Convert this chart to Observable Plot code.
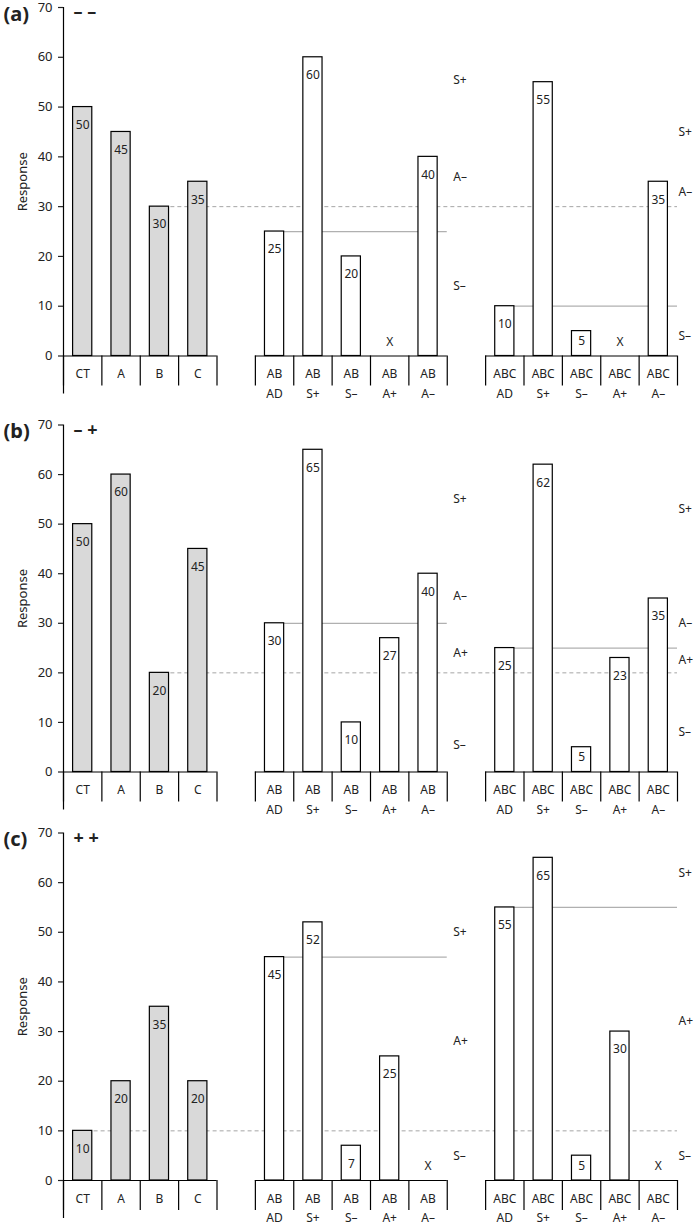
<!DOCTYPE html>
<html><head><meta charset="utf-8">
<script src="https://cdn.jsdelivr.net/npm/d3@7"></script>
<script src="https://cdn.jsdelivr.net/npm/@observablehq/plot@0.6"></script>
<style>body{margin:0;background:#fff;} svg{display:block;}</style>
</head><body><div id="chart"></div>
<script>
const panelLabels = ["(a)", "(b)", "(c)"];
const panelSigns = ["– –", "– +", "+ +"];
const singleCats = ["CT", "A", "B", "C"];
const modelCats = ["AD", "S+", "S–", "A+", "A–"];
const pairName = "AB";
const tripleName = "ABC";
const singleVals = [[50, 45, 30, 35], [50, 60, 20, 45], [10, 20, 35, 20]];
const pairVals = [[25, 60, 20, null, 40], [30, 65, 10, 27, 40], [45, 52, 7, 25, null]];
const tripleVals = [[10, 55, 5, null, 35], [25, 62, 5, 23, 35], [55, 65, 5, 30, null]];
const dashedVals = [30, 20, 10];
const dashedFrom = ["B", "B", "CT"];
const pairZoneLabels = [["S+", "A–", "S–"], ["S+", "A–", "A+", "S–"], ["S+", "A+", "S–"]];
const pairZoneVals = [[55.5, 36, 14], [55, 35.4, 24, 5.5], [50, 28, 5]];
const tripleZoneLabels = [["S+", "A–", "S–"], ["S+", "A–", "A+", "S–"], ["S+", "A+", "S–"]];
const tripleZoneVals = [[45, 33, 4], [53, 30, 22.5, 8], [62, 32, 5]];
const yTicks = [0, 10, 20, 30, 40, 50, 60, 70];
const yMax = 70;
const yTitle = "Response";

const g1 = 0;
const g2 = singleCats.length + 1;
const g3 = g2 + modelCats.length + 1;
const nSlots = g3 + modelCats.length;

function panel(p, height, mt, mb) {
  const ml = 63, mr = 20;
  const pxPerUnit = (height - mt - mb) / yMax;
  const u = px => px / pxPerUnit;
  const bars = [];
  singleCats.forEach((c, k) => bars.push({i: g1 + k, v: singleVals[p][k], g: 1}));
  modelCats.forEach((c, k) => bars.push({i: g2 + k, v: pairVals[p][k], g: 2}));
  modelCats.forEach((c, k) => bars.push({i: g3 + k, v: tripleVals[p][k], g: 3}));
  const present = bars.filter(d => d.v != null);
  const missing = bars.filter(d => d.v == null);
  const groups = [[g1, g1 + singleCats.length], [g2, g2 + modelCats.length], [g3, g3 + modelCats.length]];
  const boundaries = groups.flatMap(([a, b]) => d3.range(a, b + 1));
  const catTop = [
    ...singleCats.map((c, k) => ({i: g1 + k, t: c})),
    ...modelCats.map((c, k) => ({i: g2 + k, t: pairName})),
    ...modelCats.map((c, k) => ({i: g3 + k, t: tripleName}))
  ];
  const catBottom = [
    ...modelCats.map((c, k) => ({i: g2 + k, t: c})),
    ...modelCats.map((c, k) => ({i: g3 + k, t: c}))
  ];
  const dStart = g1 + singleCats.indexOf(dashedFrom[p]);
  const zone2 = pairZoneLabels[p].map((t, k) => ({x: g2 + modelCats.length, y: pairZoneVals[p][k], t}));
  const zone3 = tripleZoneLabels[p].map((t, k) => ({x: g3 + modelCats.length, y: tripleZoneVals[p][k], t}));
  const zero = () => 0;
  return Plot.plot({
    width: 697, height, marginTop: mt, marginBottom: mb, marginLeft: ml, marginRight: mr,
    style: {fontFamily: "'Noto Sans', sans-serif", color: "#222", background: "#fff", overflow: "visible"},
    x: {type: "linear", domain: [0, nSlots], axis: null},
    y: {domain: [0, yMax], axis: null},
    marks: [
      Plot.ruleY([dashedVals[p]], {x1: dStart + 0.25, x2: nSlots, stroke: "#a6a6a6", strokeDasharray: "4,3", strokeWidth: 1}),
      Plot.ruleY([pairVals[p][0]], {x1: g2 + 0.25, x2: g2 + modelCats.length, stroke: "#b0b0b0", strokeWidth: 1.3}),
      Plot.ruleY([tripleVals[p][0]], {x1: g3 + 0.25, x2: g3 + modelCats.length, stroke: "#b0b0b0", strokeWidth: 1.3}),
      Plot.rect(present.filter(d => d.g === 1), {x1: d => d.i + 0.25, x2: d => d.i + 0.75, y1: zero, y2: "v", fill: "#d9d9d9", stroke: "#000", strokeWidth: 1.2}),
      Plot.rect(present.filter(d => d.g !== 1), {x1: d => d.i + 0.25, x2: d => d.i + 0.75, y1: zero, y2: "v", fill: "#fff", stroke: "#000", strokeWidth: 1.2}),
      Plot.text(present.filter(d => d.v >= 6), {x: d => d.i + 0.5, y: "v", text: d => String(d.v), dy: 18, fontSize: 12}),
      Plot.text(present.filter(d => d.v < 6), {x: d => d.i + 0.5, y: "v", text: d => String(d.v), dy: 10, fontSize: 12}),
      Plot.text(missing, {x: d => d.i + 0.5, y: zero, text: () => "X", dy: -14, fontSize: 12}),
      Plot.ruleY(groups, {y: zero, x1: d => d[0], x2: d => d[1], stroke: "#000", strokeWidth: 1.2}),
      Plot.ruleX(boundaries, {x: d => d, y1: zero, y2: () => -u(30), stroke: "#000", strokeWidth: 1.2}),
      Plot.ruleX([0], {x: d => d, y1: () => -u(38), y2: () => yMax, stroke: "#000", strokeWidth: 1.2}),
      Plot.axisY(yTicks, {tickSize: 5, tickPadding: 6, fontSize: 13, strokeWidth: 1.2}),
      Plot.text(catTop, {x: d => d.i + 0.5, y: zero, text: "t", dy: 18.5, fontSize: 12}),
      Plot.text(catBottom, {x: d => d.i + 0.5, y: zero, text: "t", dy: 38, fontSize: 12}),
      Plot.text(zone2, {x: "x", y: "y", text: "t", textAnchor: "start", dx: 6, fontSize: 12}),
      Plot.text(zone3, {x: "x", y: "y", text: "t", textAnchor: "start", dx: 1, fontSize: 12}),
      Plot.text([panelLabels[p]], {x: zero, y: () => yMax, text: d => d, dx: -60, dy: 7, textAnchor: "start", fontSize: 20, fontWeight: "bold"}),
      Plot.text([panelSigns[p]], {x: zero, y: () => yMax, text: d => d, dx: 10, dy: 5, textAnchor: "start", fontSize: 18, fontWeight: "bold"}),
      Plot.text([yTitle], {x: zero, y: () => yMax / 2, text: d => d, dx: -41, rotate: -90, fontSize: 13})
    ]
  });
}

const chart = document.getElementById("chart");
chart.append(panel(0, 418, 7, 62.5));
chart.append(panel(1, 408, 6.5, 54.5));
chart.append(panel(2, 399, 6.5, 45));
</script>
</body></html>
